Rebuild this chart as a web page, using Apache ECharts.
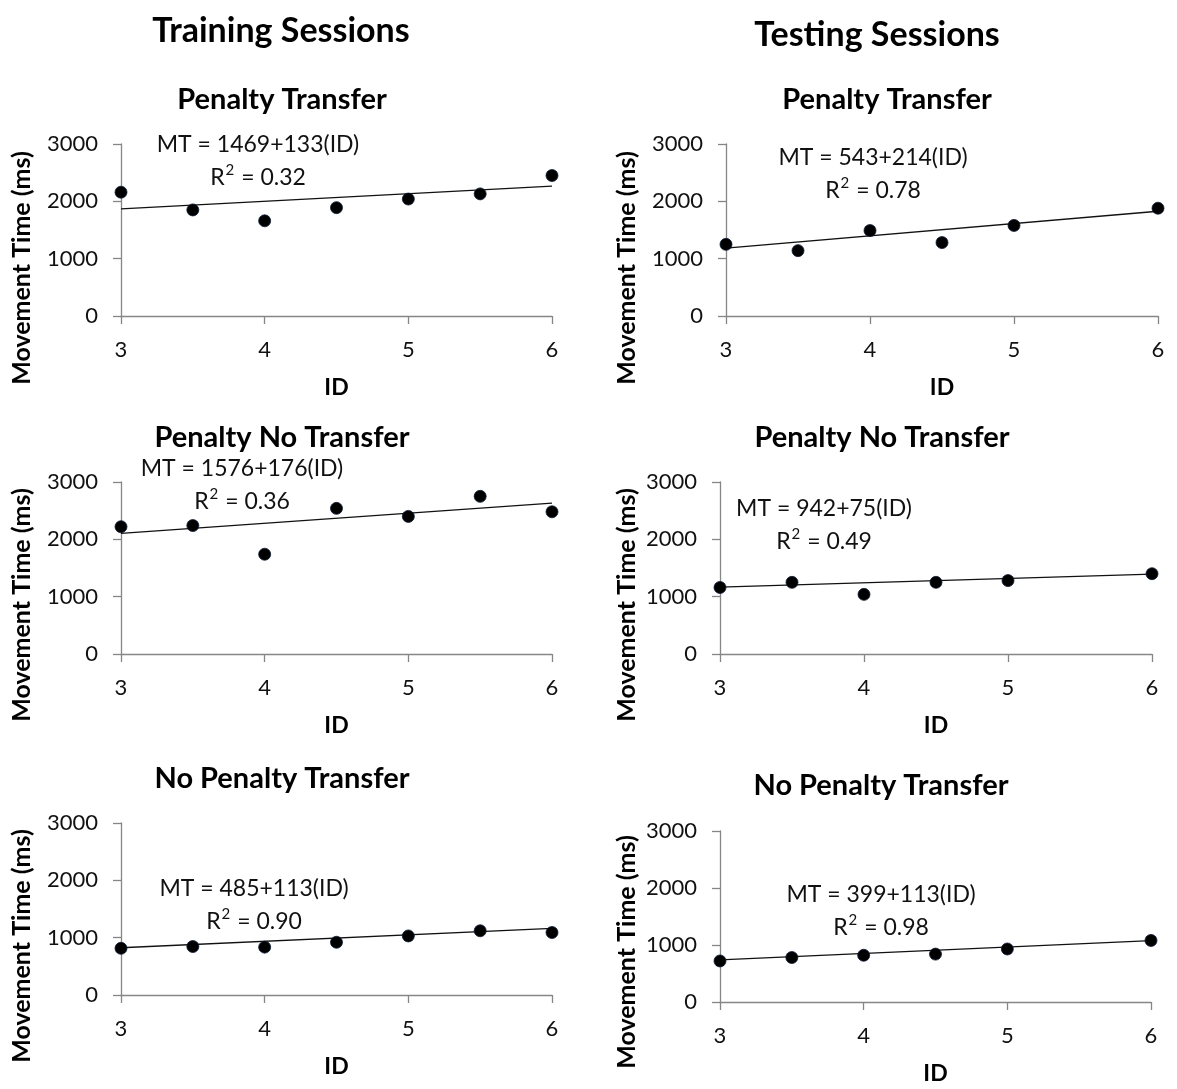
<!DOCTYPE html>
<html>
<head>
<meta charset="utf-8">
<script src="https://cdn.jsdelivr.net/npm/echarts@6/dist/echarts.min.js"></script>
<style>
html,body{margin:0;padding:0;background:#fff;}
#chart{width:1177px;height:1089px;}
</style>
</head>
<body>
<div id="chart"></div>
<script>
// ---- data ----
const idTrain = [3, 3.5, 4, 4.5, 5, 5.5, 6];
const idTest = [3, 3.5, 4, 4.5, 5, 6];

const trainPenaltyTransfer = [2160, 1850, 1660, 1890, 2040, 2130, 2450];
const testPenaltyTransfer = [1250, 1140, 1490, 1280, 1580, 1880];
const trainPenaltyNoTransfer = [2220, 2240, 1740, 2540, 2400, 2750, 2480];
const testPenaltyNoTransfer = [1160, 1250, 1040, 1250, 1280, 1400];
const trainNoPenaltyTransfer = [815, 845, 835, 920, 1030, 1120, 1090];
const testNoPenaltyTransfer = [720, 780, 820, 840, 930, 1080];

// printed regression equations MT = a + b(ID)
const intercepts = [1469, 543, 1576, 942, 485, 399];
const slopes = [133, 214, 176, 75, 113, 113];
const rSquared = ['0.32', '0.78', '0.36', '0.49', '0.90', '0.98'];

const panelTitles = ['Penalty Transfer', 'Penalty Transfer', 'Penalty No Transfer',
  'Penalty No Transfer', 'No Penalty Transfer', 'No Penalty Transfer'];
const columnTitles = ['Training Sessions', 'Testing Sessions'];
const yTicks = [0, 1000, 2000, 3000];
const xTicks = [3, 4, 5, 6];
const yAxisTitle = 'Movement Time (ms)';
const xAxisTitle = 'ID';

// ---- layout ----
const panels = [
  { xs: idTrain, ys: trainPenaltyTransfer, grid: { left: 121, top: 144, width: 431, height: 172 }, title: [282, 100], eq: [258, 145], yt: [22, 268] },
  { xs: idTest, ys: testPenaltyTransfer, grid: { left: 726, top: 144, width: 432, height: 172 }, title: [887, 100], eq: [873, 158], yt: [627, 268] },
  { xs: idTrain, ys: trainPenaltyNoTransfer, grid: { left: 121, top: 482, width: 431, height: 172 }, title: [282, 438], eq: [242, 469], yt: [22, 605] },
  { xs: idTest, ys: testPenaltyNoTransfer, grid: { left: 720, top: 482, width: 432, height: 172 }, title: [882, 438], eq: [824, 509], yt: [627, 605] },
  { xs: idTrain, ys: trainNoPenaltyTransfer, grid: { left: 121, top: 823, width: 431, height: 172 }, title: [282, 779], eq: [254, 889], yt: [22, 946] },
  { xs: idTest, ys: testNoPenaltyTransfer, grid: { left: 720, top: 831, width: 431, height: 171 }, title: [881, 786], eq: [881, 895], yt: [627, 952] }
];
const columnTitlePos = [[281, 31], [877, 35]];

const FONT = 'Lato, "Open Sans", sans-serif';
const TXT = '#111';
const AX = '#868686';

const grids = [], xAxes = [], yAxes = [], series = [], graphics = [];

panels.forEach((p, i) => {
  grids.push(Object.assign({ containLabel: false }, p.grid));
  xAxes.push({
    type: 'value', gridIndex: i, min: xTicks[0], max: xTicks[xTicks.length - 1], interval: 1,
    axisLine: { show: true, lineStyle: { color: AX, width: 1.3 } },
    axisTick: { show: true, length: 8, lineStyle: { color: AX, width: 1.3 } },
    splitLine: { show: false },
    axisLabel: { fontSize: 22, fontFamily: FONT, color: TXT, margin: 23, formatter: v => String(v) },
    name: xAxisTitle, nameLocation: 'middle', nameGap: 60,
    nameTextStyle: { fontSize: 23, fontWeight: 'bold', fontFamily: FONT, color: '#000' }
  });
  yAxes.push({
    type: 'value', gridIndex: i, min: yTicks[0], max: yTicks[yTicks.length - 1], interval: 1000,
    axisLine: { show: true, lineStyle: { color: AX, width: 1.3 } },
    axisTick: { show: true, length: 8, lineStyle: { color: AX, width: 1.3 } },
    splitLine: { show: false },
    axisLabel: { fontSize: 22, fontFamily: FONT, color: TXT, margin: 23, formatter: v => String(v) }
  });
  const x0 = xTicks[0], x1 = xTicks[xTicks.length - 1];
  series.push({
    type: 'line', xAxisIndex: i, yAxisIndex: i, silent: true, symbol: 'none',
    lineStyle: { color: '#111', width: 1.3 },
    data: [[x0, intercepts[i] + slopes[i] * x0], [x1, intercepts[i] + slopes[i] * x1]],
    z: 2
  });
  series.push({
    type: 'scatter', xAxisIndex: i, yAxisIndex: i, symbol: 'circle', symbolSize: 12,
    itemStyle: { color: '#000', opacity: 1, borderColor: '#0b1a33', borderWidth: 0.8 },
    data: p.xs.map((x, k) => [x, p.ys[k]]),
    z: 3
  });
  graphics.push({
    type: 'text', x: p.title[0], y: p.title[1],
    style: { text: panelTitles[i], font: 'bold 29px ' + FONT, fill: '#000', align: 'center', verticalAlign: 'middle' }
  });
  graphics.push({
    type: 'text', x: p.eq[0], y: p.eq[1],
    style: { text: 'MT = ' + intercepts[i] + '+' + slopes[i] + '(ID)', font: '23px ' + FONT, fill: TXT, align: 'center', verticalAlign: 'middle' }
  });
  graphics.push({
    type: 'text', x: p.eq[0], y: p.eq[1] + 30,
    style: {
      text: '{b|R}{s|2}{b| = ' + rSquared[i] + '}', align: 'center', verticalAlign: 'middle',
      rich: {
        b: { fontSize: 23, fontFamily: FONT, fill: TXT, color: TXT, lineHeight: 28, verticalAlign: 'bottom' },
        s: { fontSize: 15, fontFamily: FONT, fill: TXT, color: TXT, lineHeight: 28, verticalAlign: 'top', padding: [2, 1, 0, 1] }
      }
    }
  });
  graphics.push({
    type: 'text', x: p.yt[0], y: p.yt[1], rotation: Math.PI / 2,
    style: { text: yAxisTitle, font: 'bold 25px ' + FONT, fill: '#000', align: 'center', verticalAlign: 'middle' }
  });
});

columnTitles.forEach((t, j) => {
  graphics.push({
    type: 'text', x: columnTitlePos[j][0], y: columnTitlePos[j][1],
    style: { text: t, font: 'bold 34px ' + FONT, fill: '#000', align: 'center', verticalAlign: 'middle' }
  });
});

const chart = echarts.init(document.getElementById('chart'), null, { renderer: 'canvas' });
chart.setOption({
  animation: false,
  backgroundColor: '#fff',
  grid: grids,
  xAxis: xAxes,
  yAxis: yAxes,
  series: series,
  graphic: graphics
});
</script>
</body>
</html>
